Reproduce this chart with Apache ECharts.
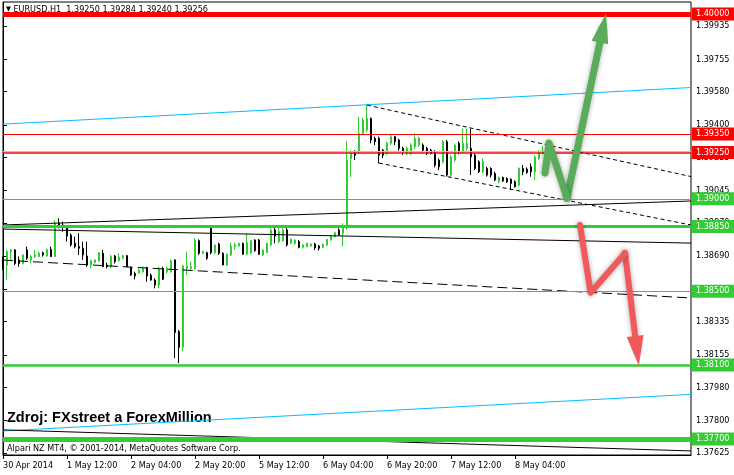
<!DOCTYPE html>
<html><head><meta charset="utf-8">
<script src="https://cdn.jsdelivr.net/npm/echarts@6/dist/echarts.min.js"></script>
<style>html,body{margin:0;padding:0;background:#fff}#c{width:734px;height:475px}</style>
</head><body><div id="c"></div>
<script>
// ---- data ----
const timeLabels = ['30 Apr 2014','1 May 12:00','2 May 04:00','2 May 20:00','5 May 12:00','6 May 04:00','6 May 20:00','7 May 12:00','8 May 04:00'];
const timeTickIdx = [0,16,32,48,64,80,96,112,128];
const priceTicks = [1.37625,1.37800,1.37980,1.38155,1.38335,1.38510,1.38690,1.38870,1.39045,1.39225,1.39400,1.39580,1.39755,1.39935];

const openP = [1.38678,1.38641,1.38714,1.38723,1.38669,1.38650,1.38723,1.38669,1.38687,1.38687,
1.38708,1.38690,1.38726,1.38687,1.38867,1.38858,1.38849,1.38804,1.38759,1.38741,
1.38732,1.38690,1.38641,1.38655,1.38663,1.38705,1.38641,1.38632,1.38690,1.38665,
1.38678,1.38692,1.38627,1.38596,1.38600,1.38605,1.38627,1.38587,1.38560,1.38533,
1.38623,1.38605,1.38605,1.38669,1.38281,1.38196,1.38623,1.38623,1.38623,1.38773,
1.38705,1.38708,1.38840,1.38708,1.38755,1.38705,1.38641,1.38696,1.38741,1.38744,
1.38759,1.38701,1.38708,1.38777,1.38777,1.38696,1.38708,1.38750,1.38831,1.38768,
1.38773,1.38831,1.38759,1.38759,1.38768,1.38737,1.38741,1.38744,1.38755,1.38744,
1.38737,1.38750,1.38777,1.38795,1.38831,1.38813,1.38847,1.39218,1.39245,1.39254,
1.39354,1.39372,1.39435,1.39327,1.39327,1.39263,1.39245,1.39300,1.39336,1.39318,
1.39273,1.39245,1.39245,1.39282,1.39291,1.39291,1.39273,1.39263,1.39254,1.39209,
1.39200,1.39309,1.39128,1.39209,1.39300,1.39254,1.39273,1.39273,1.39236,1.39200,
1.39146,1.39164,1.39164,1.39137,1.39092,1.39115,1.39110,1.39106,1.39092,1.39074,
1.39164,1.39160,1.39173,1.39146,1.39218,1.39250];
const highP = [1.38687,1.38723,1.38728,1.38728,1.38687,1.38700,1.38741,1.38696,1.38723,1.38714,
1.38714,1.38730,1.38741,1.38885,1.38894,1.38876,1.38858,1.38813,1.38795,1.38813,
1.38768,1.38768,1.38669,1.38672,1.38712,1.38723,1.38654,1.38696,1.38696,1.38705,
1.38696,1.38696,1.38632,1.38605,1.38623,1.38632,1.38632,1.38596,1.38569,1.38632,
1.38632,1.38632,1.38672,1.38672,1.38290,1.38641,1.38714,1.38660,1.38787,1.38780,
1.38720,1.38714,1.38849,1.38750,1.38762,1.38710,1.38705,1.38762,1.38762,1.38762,
1.38762,1.38813,1.38777,1.38780,1.38782,1.38726,1.38762,1.38840,1.38845,1.38840,
1.38840,1.38845,1.38786,1.38780,1.38777,1.38755,1.38762,1.38759,1.38762,1.38750,
1.38759,1.38782,1.38800,1.38822,1.38840,1.38867,1.39312,1.39263,1.39263,1.39442,
1.39440,1.39507,1.39440,1.39336,1.39336,1.39270,1.39310,1.39345,1.39340,1.39325,
1.39282,1.39282,1.39300,1.39354,1.39336,1.39300,1.39282,1.39270,1.39263,1.39218,
1.39318,1.39318,1.39236,1.39300,1.39310,1.39381,1.39381,1.39381,1.39245,1.39209,
1.39220,1.39173,1.39170,1.39146,1.39120,1.39120,1.39115,1.39110,1.39100,1.39170,
1.39182,1.39170,1.39191,1.39236,1.39263,1.39284];
const lowP = [1.38614,1.38560,1.38669,1.38641,1.38632,1.38645,1.38669,1.38650,1.38678,1.38684,
1.38687,1.38687,1.38684,1.38687,1.38840,1.38822,1.38768,1.38741,1.38732,1.38696,
1.38669,1.38632,1.38623,1.38650,1.38660,1.38632,1.38623,1.38623,1.38650,1.38660,
1.38672,1.38632,1.38582,1.38564,1.38593,1.38600,1.38551,1.38556,1.38515,1.38515,
1.38560,1.38596,1.38600,1.38137,1.38110,1.38173,1.38587,1.38614,1.38614,1.38696,
1.38700,1.38669,1.38700,1.38700,1.38696,1.38641,1.38636,1.38690,1.38723,1.38740,
1.38696,1.38696,1.38700,1.38714,1.38696,1.38690,1.38705,1.38741,1.38759,1.38759,
1.38768,1.38741,1.38755,1.38750,1.38732,1.38730,1.38737,1.38740,1.38723,1.38720,
1.38732,1.38744,1.38773,1.38790,1.38800,1.38741,1.38831,1.39117,1.39209,1.39245,
1.39345,1.39360,1.39300,1.39290,1.39191,1.39220,1.39236,1.39290,1.39290,1.39260,
1.39236,1.39236,1.39236,1.39270,1.39280,1.39250,1.39236,1.39240,1.39170,1.39155,
1.39190,1.39120,1.39115,1.39200,1.39240,1.39245,1.39260,1.39128,1.39155,1.39140,
1.39137,1.39120,1.39115,1.39095,1.39085,1.39090,1.39085,1.39047,1.39060,1.39065,
1.39128,1.39135,1.39119,1.39101,1.39209,1.39240];
const closeP = [1.38623,1.38714,1.38723,1.38650,1.38650,1.38696,1.38678,1.38687,1.38696,1.38705,
1.38696,1.38726,1.38687,1.38867,1.38849,1.38849,1.38798,1.38750,1.38741,1.38732,
1.38696,1.38641,1.38665,1.38669,1.38708,1.38632,1.38632,1.38687,1.38660,1.38683,
1.38692,1.38632,1.38587,1.38582,1.38614,1.38623,1.38582,1.38560,1.38533,1.38618,
1.38564,1.38623,1.38665,1.38276,1.38196,1.38636,1.38636,1.38632,1.38777,1.38705,
1.38714,1.38678,1.38708,1.38750,1.38705,1.38641,1.38700,1.38744,1.38750,1.38759,
1.38699,1.38762,1.38773,1.38719,1.38699,1.38723,1.38759,1.38831,1.38798,1.38822,
1.38831,1.38750,1.38780,1.38777,1.38737,1.38750,1.38759,1.38755,1.38735,1.38732,
1.38753,1.38780,1.38798,1.38816,1.38804,1.38840,1.39209,1.39245,1.39236,1.39354,
1.39426,1.39435,1.39318,1.39309,1.39236,1.39236,1.39300,1.39336,1.39309,1.39273,
1.39254,1.39273,1.39291,1.39327,1.39327,1.39263,1.39245,1.39245,1.39182,1.39173,
1.39309,1.39128,1.39227,1.39291,1.39254,1.39300,1.39300,1.39227,1.39164,1.39146,
1.39200,1.39128,1.39128,1.39101,1.39115,1.39097,1.39092,1.39083,1.39065,1.39164,
1.39146,1.39142,1.39146,1.39227,1.39254,1.39256];

// horizontal levels
const levelPrices = [1.40000, 1.39350, 1.39250, 1.39000, 1.38850, 1.38500, 1.38100, 1.37700];
const levelColors = ['#ff0000','#ff0000','#ff0000','#32cd32','#32cd32','#32cd32','#32cd32','#32cd32'];
const levelWidths = [5, 1.2, 1.5, 1.2, 3, 1.2, 2.5, 5];
const bidPrice = 1.39256;

// trend lines: [startIndex, startPrice], [endIndex, endPrice]
const cyanUpper = [[0, 1.39404], [172, 1.39602]];
const cyanLower = [[0, 1.37743], [172, 1.37941]];
const blackUp = [[0, 1.38858], [172, 1.38988]];
const blackDown = [[0, 1.38836], [172, 1.38760]];
const blackDashed = [[0, 1.38668], [172, 1.38463]];
const blackLow = [[0, 1.37749], [172, 1.37635]];
const channelTop = [[91, 1.39507], [172, 1.39120]];
const channelBottom = [[94, 1.39193], [172, 1.38858]];

// arrows (polyline points, last segment ends at arrow head centre)
const greenArrow = [[135.5, 1.39139], [136.5, 1.39301], [141, 1.39004]];
const greenHead = [150.0, 1.39925];
const redArrow = [[144.25, 1.38858], [146.9, 1.38491], [155.5, 1.38705]];
const redHead = [158.5, 1.38177];

// ---- chart ----
const FONT = "'DejaVu Sans Condensed','DejaVu Sans',sans-serif";
const cats = [];
for (let i = 0; i <= 172; i++) cats.push(String(i));
const candleData = openP.map((o, i) => [o, closeP[i], lowP[i], highP[i]]);

function trend(data, color, type, width) {
  return { type: 'line', xAxisIndex: 1, data: data, symbol: 'none', silent: true, z: 4,
    lineStyle: { color: color, width: width || 1, type: type || 'solid' }, animation: false };
}

const levelMarks = levelPrices.map((p, i) => ({
  yAxis: p,
  lineStyle: { color: levelColors[i], width: levelWidths[i], type: 'solid' },
  label: { show: true, position: 'end', distance: 1, formatter: p.toFixed(5),
    backgroundColor: levelColors[i], color: '#fff', fontSize: 9, fontFamily: FONT,
    padding: [2, 9, 1, 4], lineHeight: 10 }
}));
levelMarks.push({ yAxis: bidPrice, lineStyle: { color: '#c0c0c0', width: 1, type: 'solid' }, label: { show: false } });

function arrowSeries(pts, head, color, width) {
  const last = pts[pts.length - 1];
  return { type: 'line', xAxisIndex: 1, data: pts, symbol: 'none', silent: true, z: 8,
    lineStyle: { color: color, width: width, cap: 'round', join: 'round', shadowBlur: 5, shadowColor: 'rgba(0,0,0,0.35)' },
    markLine: { silent: true, precision: 6, symbol: ['none', 'triangle'], symbolSize: [17, 30], animation: false,
      lineStyle: { color: color, width: width, type: 'solid', cap: 'round', shadowBlur: 5, shadowColor: 'rgba(0,0,0,0.35)' },
      label: { show: false }, emphasis: { disabled: true },
      data: [[{ coord: last }, { coord: head }]] } };
}

const chart = echarts.init(document.getElementById('c'), null, { renderer: 'canvas' });
chart.setOption({
  animation: false,
  backgroundColor: '#ffffff',
  title: [
    { text: '{t|▼} EURUSD,H1  1.39250 1.39284 1.39240 1.39256', left: 6, top: 5, padding: 0, z: 0,
      textStyle: { fontSize: 9, fontWeight: 'normal', color: '#000', fontFamily: FONT,
        rich: { t: { fontSize: 7, color: '#000' } } } },
    { text: 'Zdroj: FXstreet a ForexMillion', left: 7, top: 410, padding: 0, z: 0,
      textStyle: { fontSize: 14.5, fontWeight: 'bold', color: '#000', fontFamily: "'Liberation Sans',Arial,sans-serif" } },
    { text: 'Alpari NZ MT4, © 2001-2014, MetaQuotes Software Corp.', left: 7, top: 444, padding: 0, z: 0,
      textStyle: { fontSize: 9, fontWeight: 'normal', color: '#000', fontFamily: FONT } }
  ],
  grid: { left: 3, right: 43, top: 2, bottom: 20, show: true, borderColor: '#000', borderWidth: 1, backgroundColor: 'transparent' },
  xAxis: [
    { type: 'category', data: cats, boundaryGap: false, position: 'top', show: false },
    { type: 'value', min: 0, max: 172, position: 'bottom',
      axisLine: { show: true, lineStyle: { color: '#000', width: 1 } },
      axisTick: { show: true, customValues: timeTickIdx, length: 4, lineStyle: { color: '#000' } },
      axisLabel: { show: true, customValues: timeTickIdx, align: 'left', margin: 6, fontSize: 9, color: '#000', fontFamily: FONT,
        formatter: v => timeLabels[timeTickIdx.indexOf(Math.round(v))] || '' },
      splitLine: { show: false } }
  ],
  yAxis: {
    type: 'value', position: 'right', min: 1.37613, max: 1.40065, scale: true,
    axisLine: { show: true, lineStyle: { color: '#000', width: 1 } },
    axisTick: { show: true, customValues: priceTicks, length: 4, lineStyle: { color: '#000' } },
    axisLabel: { show: true, customValues: priceTicks, margin: 5, fontSize: 9, color: '#000', fontFamily: FONT,
      formatter: v => Number(v).toFixed(5) },
    splitLine: { show: false }
  },
  series: [
    { type: 'candlestick', xAxisIndex: 0, data: candleData, barWidth: 2, z: 2, silent: true,
      itemStyle: { color: '#32cd32', color0: '#000000', borderColor: '#32cd32', borderColor0: '#000000', borderWidth: 1 } },
    trend(cyanUpper, '#00bfff'),
    trend(cyanLower, '#00bfff'),
    trend(blackUp, '#000'),
    trend(blackDown, '#000'),
    trend(blackDashed, '#000', [10, 5]),
    trend(blackLow, '#000'),
    trend(channelTop, '#000', [4, 3]),
    trend(channelBottom, '#000', [4, 3]),
    { type: 'line', xAxisIndex: 1, data: [], symbol: 'none', silent: true, z: 5,
      markLine: { silent: true, precision: 6, symbol: ['none', 'none'], animation: false, data: levelMarks } },
    arrowSeries(greenArrow, greenHead, '#5aac5a', 7),
    arrowSeries(redArrow, redHead, '#f05a5a', 6)
  ]
});
</script>
</body></html>
